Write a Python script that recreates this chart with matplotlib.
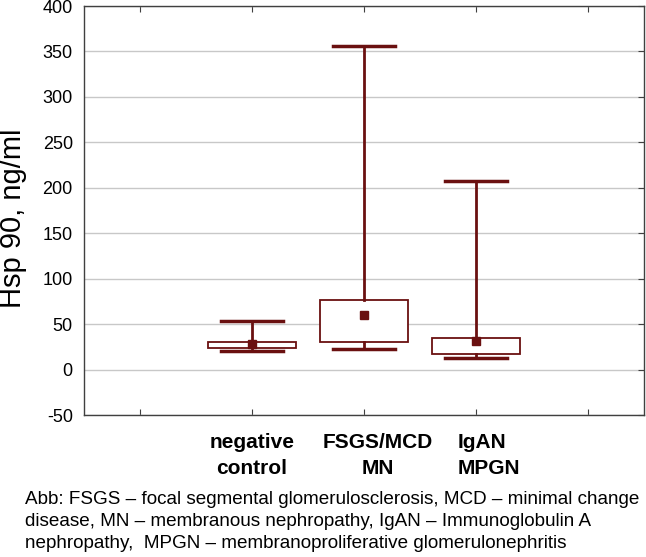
import matplotlib
matplotlib.use("Agg")
import matplotlib.pyplot as plt
from matplotlib.transforms import blended_transform_factory, ScaledTranslation

categories = ["negative\ncontrol", "FSGS/MCD\nMN", "IgAN\nMPGN"]
whisker_low = [20.7, 22.2, 12.7]
box_low = [24.0, 30.3, 17.0]
box_high = [30.6, 76.8, 35.0]
whisker_high = [53.0, 356.0, 207.0]
means = [27.7, 60.0, 31.4]
yticks = [-50, 0, 50, 100, 150, 200, 250, 300, 350, 400]
caption = ("Abb: FSGS \u2013 focal segmental glomerulosclerosis, MCD \u2013 minimal change\n"
           "disease, MN \u2013 membranous nephropathy, IgAN \u2013 Immunoglobulin A\n"
           "nephropathy,  MPGN \u2013 membranoproliferative glomerulonephritis")

plt.rcParams['font.family'] = ['Liberation Sans', 'DejaVu Sans']
dark = "#6a1010"

fig = plt.figure(figsize=(6.46, 5.57), dpi=100)
ax = fig.add_axes([0.130, 0.2549, 0.8669, 0.7343])

stats = []
for i in range(len(categories)):
    stats.append(dict(med=means[i], q1=box_low[i], q3=box_high[i],
                      whislo=whisker_low[i], whishi=whisker_high[i],
                      mean=means[i], fliers=[]))
positions = [1, 2, 3]
ax.bxp(stats, positions=positions, widths=0.79, showmeans=True, showfliers=False,
       patch_artist=True,
       boxprops=dict(facecolor="white", edgecolor=dark, linewidth=1.3),
       whiskerprops=dict(color=dark, linewidth=2.0),
       capprops=dict(color=dark, linewidth=2.5),
       capwidths=0.56,
       medianprops=dict(linewidth=0),
       meanprops=dict(marker="s", markerfacecolor=dark, markeredgecolor=dark, markersize=6),
       zorder=3)

ax.set_xlim(-0.5, 4.5)
ax.set_ylim(-50, 400)
ax.set_yticks(yticks)
ax.set_yticklabels([str(v) for v in yticks], fontsize=13)
ax.set_xticks([0, 1, 2, 3, 4])
ax.set_xticklabels([""] * 5)
ax.tick_params(axis="x", direction="in", length=4, top=True, bottom=True, color="#404040")
ax.tick_params(axis="y", direction="in", length=4, left=False, right=True, pad=8, color="#404040")
ax.yaxis.grid(True, color="#c8c8c8", linewidth=1.0)
ax.set_axisbelow(True)
for s in ax.spines.values():
    s.set_color("#404040")
    s.set_linewidth(1.0)
ax.set_ylabel("Hsp 90, ng/ml", fontsize=21)
ax.yaxis.set_label_coords(-0.102, 0.482)

# category labels (hand-placed offsets as in the original)
trans = blended_transform_factory(ax.transData, ax.transAxes)
offsets_px = [0, 13.5, -18]
aligns = ["center", "center", "left"]
for pos, lab, dx, ha in zip(positions, categories, offsets_px, aligns):
    t = trans + ScaledTranslation(dx / 100.0, 0, fig.dpi_scale_trans)
    ax.text(pos, -0.044, lab, transform=t, ha=ha, va="top", fontsize=15,
            fontweight="bold", linespacing=1.45, multialignment=ha)

fig.text(0.0387, 0.119, caption, ha="left", va="top", fontsize=13.6,
         linespacing=1.41)

fig.savefig("out.png", dpi=100)
